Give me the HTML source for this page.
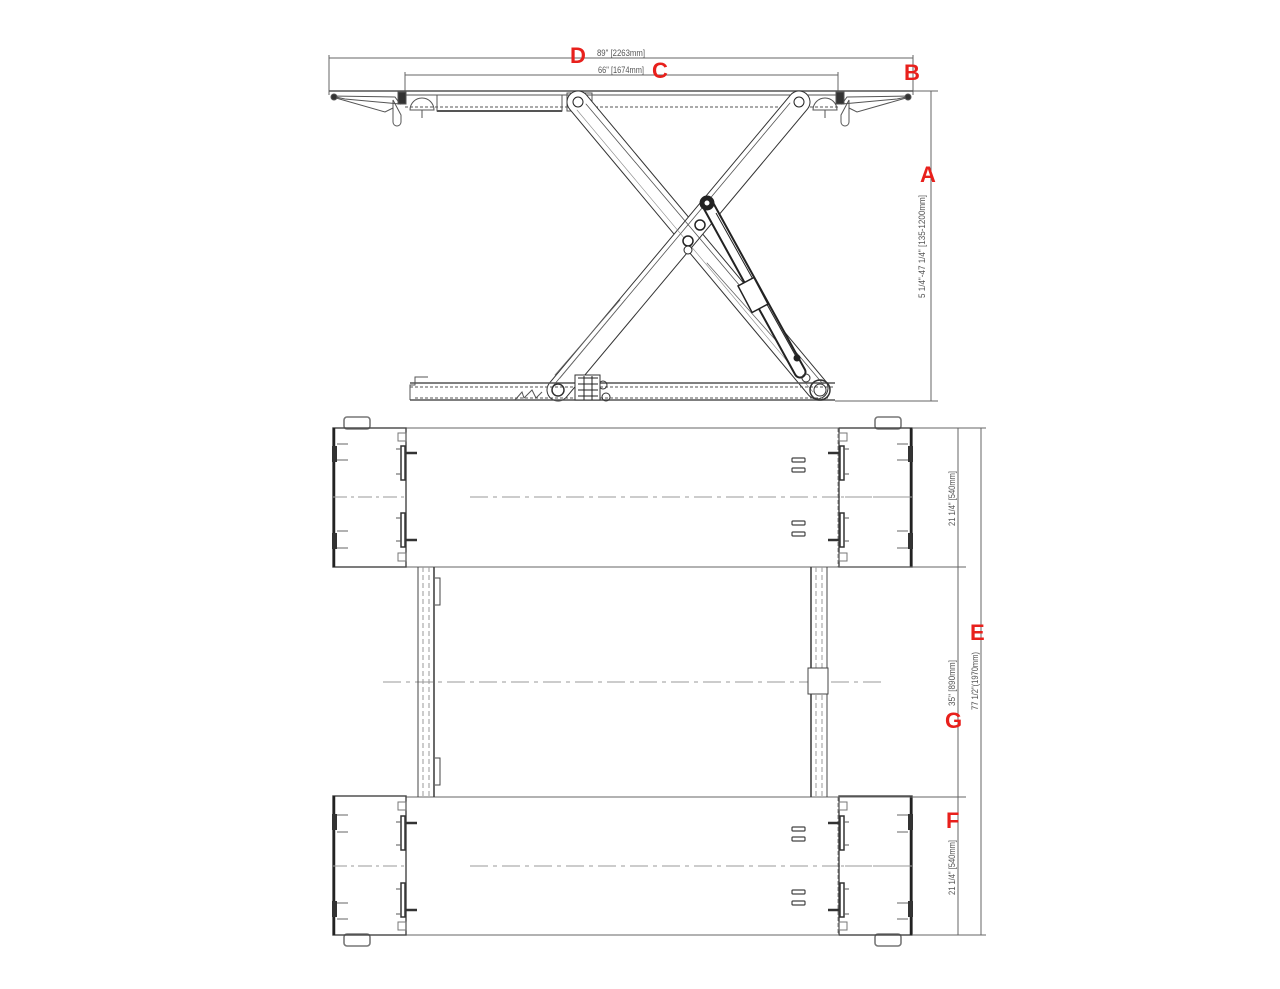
<!DOCTYPE html>
<html><head><meta charset="utf-8"><style>
html,body{margin:0;padding:0;background:#fff;}
svg{display:block;}
.t{font-family:"Liberation Sans",sans-serif;font-size:9px;fill:#555;}
.r{font-family:"Liberation Sans",sans-serif;font-size:22px;font-weight:bold;fill:#e8201c;}
</style></head><body>
<svg width="1280" height="989" viewBox="0 0 1280 989" xmlns="http://www.w3.org/2000/svg">
<defs>
<g id="flap">
  <rect x="344" y="417" width="26" height="12" rx="3" fill="none" stroke="#777" stroke-width="1.6"/>
  <rect x="333" y="428" width="73" height="139" fill="none" stroke="#444" stroke-width="1.4"/>
  <line x1="334" y1="428" x2="334" y2="567" stroke="#222" stroke-width="2.5"/>
  <line x1="333" y1="497" x2="406" y2="497" stroke="#999" stroke-width="1" stroke-dasharray="14,4,3,4"/>
  <rect x="332" y="446" width="5" height="16" fill="#333"/>
  <line x1="337" y1="444" x2="348" y2="444" stroke="#666"/><line x1="337" y1="460" x2="348" y2="460" stroke="#666"/>
  <rect x="332" y="533" width="5" height="16" fill="#333"/>
  <line x1="337" y1="531" x2="348" y2="531" stroke="#666"/><line x1="337" y1="548" x2="348" y2="548" stroke="#666"/>
  <rect x="398" y="433" width="8" height="8" fill="none" stroke="#777"/>
  <rect x="398" y="553" width="8" height="8" fill="none" stroke="#777"/>
  <rect x="401" y="446" width="4" height="34" fill="none" stroke="#333" stroke-width="1.5"/>
  <rect x="401" y="513" width="4" height="34" fill="none" stroke="#333" stroke-width="1.5"/>
  <line x1="396" y1="449" x2="401" y2="449" stroke="#555"/><line x1="396" y1="474" x2="401" y2="474" stroke="#555"/>
  <line x1="396" y1="518" x2="401" y2="518" stroke="#555"/><line x1="396" y1="541" x2="401" y2="541" stroke="#555"/>
  <line x1="406" y1="453" x2="417" y2="453" stroke="#333" stroke-width="2.5"/>
  <line x1="406" y1="540" x2="417" y2="540" stroke="#333" stroke-width="2.5"/>
</g>
</defs>

<!-- ===== SIDE VIEW ===== -->
<g fill="none" stroke="#666" stroke-width="1">
  <line x1="329" y1="58" x2="913" y2="58"/>
  <line x1="329" y1="55" x2="329" y2="95"/><line x1="913" y1="55" x2="913" y2="95"/>
  <line x1="405" y1="75" x2="838" y2="75"/>
  <line x1="405" y1="72" x2="405" y2="95"/><line x1="838" y1="72" x2="838" y2="95"/>
  <line x1="913" y1="91" x2="938" y2="91"/><line x1="835" y1="401" x2="938" y2="401"/>
  <line x1="931" y1="91" x2="931" y2="401"/>
</g>
<text class="t" x="597" y="56" textLength="48" lengthAdjust="spacingAndGlyphs">89" [2263mm]</text>
<text class="t" x="598" y="73" textLength="46" lengthAdjust="spacingAndGlyphs">66" [1674mm]</text>
<text class="t" transform="translate(925,298) rotate(-90)" textLength="103" lengthAdjust="spacingAndGlyphs">5 1/4"-47 1/4" [135-1200mm]</text>

<g fill="none" stroke="#555" stroke-width="1">
  <line x1="329" y1="91" x2="913" y2="91" stroke-width="1.6"/>
  <line x1="405" y1="95" x2="838" y2="95"/>
  <line x1="405" y1="107" x2="838" y2="107" stroke-dasharray="3,2"/>
  <rect x="437" y="95" width="125" height="16"/>
  <line x1="437" y1="111" x2="562" y2="111" stroke-width="2"/>
  <rect x="567" y="93" width="25" height="18"/>
  <path d="M410 110 a12 12 0 0 1 24 0 Z"/><line x1="422" y1="110" x2="422" y2="118"/>
  <path d="M813 110 a12 12 0 0 1 24 0 Z"/><line x1="825" y1="110" x2="825" y2="118"/>
  <path d="M331 96 L395 97 L400 104 L345 99 Z"/>
  <path d="M336 98 L385 112 L393 108"/>
  <path d="M393 100 L401 115 L401 122 a4 4 0 0 1 -8 0 Z"/>
  <rect x="398" y="92" width="8" height="12" fill="#333"/>
  <circle cx="334" cy="97" r="3" fill="#333"/>
  <path d="M911 96 L847 97 L842 104 L897 99 Z"/>
  <path d="M906 98 L857 112 L849 108"/>
  <path d="M849 100 L841 115 L841 122 a4 4 0 0 0 8 0 Z"/>
  <rect x="836" y="92" width="8" height="12" fill="#333"/>
  <circle cx="908" cy="97" r="3" fill="#333"/>
</g>

<g stroke-linecap="round" fill="none">
  <line x1="578" y1="102" x2="817" y2="388" stroke="#333" stroke-width="23"/>
  <line x1="578" y1="102" x2="817" y2="388" stroke="#fff" stroke-width="21"/>
  <line x1="799" y1="102" x2="558" y2="390" stroke="#333" stroke-width="23"/>
  <line x1="799" y1="102" x2="558" y2="390" stroke="#fff" stroke-width="21"/>
  <line x1="586" y1="104" x2="823" y2="384" stroke="#555" stroke-width="0.8"/>
  <line x1="790" y1="103" x2="553" y2="386" stroke="#555" stroke-width="0.8"/>
  <line x1="577" y1="110" x2="813" y2="392" stroke="#888" stroke-width="0.6"/>
  <path d="M620 300 L555 375" stroke="#666" stroke-width="0.8"/>
  <path d="M625 300 L560 378" stroke="#666" stroke-width="0.8"/>
  <path d="M707 263 L780 345" stroke="#666" stroke-width="0.8"/>
</g>
<g stroke="#222" fill="#fff">
  <line x1="707" y1="203" x2="800" y2="372" stroke-width="13" stroke-linecap="round" stroke="#222"/>
  <line x1="707" y1="203" x2="800" y2="372" stroke-width="9" stroke-linecap="round" stroke="#fff"/>
  <line x1="716" y1="213" x2="798" y2="360" stroke-width="1"/>
  <rect x="744" y="280" width="18" height="30" transform="rotate(-28 753 295)" stroke-width="1.5"/>
  <circle cx="707" cy="203" r="7" fill="#222"/>
  <circle cx="707" cy="203" r="3" fill="#fff"/>
  <circle cx="700" cy="225" r="5" stroke-width="1.5"/>
  <circle cx="688" cy="241" r="5" stroke-width="1.5"/>
  <circle cx="688" cy="250" r="4" stroke-width="1"/>
  <circle cx="578" cy="102" r="5" stroke-width="1"/>
  <circle cx="799" cy="102" r="5" stroke-width="1"/>
  <circle cx="797" cy="358" r="3" fill="#222"/>
</g>
<g fill="none" stroke="#555" stroke-width="1">
  <path d="M410 400 L410 385 L415 385 L415 377 L428 377"/>
  <line x1="410" y1="383" x2="835" y2="383" stroke-width="1.4"/>
  <line x1="410" y1="387" x2="835" y2="387" stroke-dasharray="3,2"/>
  <line x1="410" y1="400" x2="835" y2="400" stroke-width="1.4"/>
  <line x1="415" y1="398" x2="830" y2="398" stroke-dasharray="3,2"/>
  <path d="M515 400 L522 392 L524 398 L532 390 L536 398 L542 392"/>
  <circle cx="820" cy="390" r="10" stroke="#333" stroke-width="1.5"/>
  <circle cx="820" cy="390" r="6" stroke="#333"/>
  <circle cx="806" cy="378" r="4" stroke="#333"/>
  <circle cx="558" cy="390" r="6" stroke="#333" stroke-width="1.5"/>
  <circle cx="603" cy="385" r="4" stroke="#333"/>
  <circle cx="606" cy="397" r="4" stroke="#333"/>
  <rect x="575" y="375" width="25" height="25" fill="#fff" stroke="#333"/>
  <path d="M578 378 L598 378 M578 384 L598 384 M578 390 L598 390 M578 396 L598 396 M584 376 L584 400 M592 376 L592 400" stroke="#222"/>
</g>

<!-- ===== PLAN VIEW ===== -->
<g fill="none" stroke="#888" stroke-width="1">
  <rect x="406" y="428" width="432" height="139" stroke-dasharray="4,2"/>
  <line x1="406" y1="428" x2="838" y2="428" stroke="#666"/>
  <line x1="406" y1="567" x2="838" y2="567" stroke="#666"/>
  <rect x="406" y="797" width="432" height="138" stroke-dasharray="4,2"/>
  <line x1="406" y1="797" x2="838" y2="797" stroke="#666"/>
  <line x1="406" y1="935" x2="838" y2="935" stroke="#666"/>
</g>
<g stroke="#999" stroke-width="1" stroke-dasharray="18,5,4,5" fill="none">
  <line x1="470" y1="497" x2="912" y2="497"/>
  <line x1="470" y1="866" x2="912" y2="866"/>
  <line x1="383" y1="682" x2="885" y2="682"/>
</g>
<g fill="none" stroke="#444" stroke-width="1.2">
  <rect x="792" y="458" width="13" height="4" rx="1"/><rect x="792" y="468" width="13" height="4" rx="1"/>
  <rect x="792" y="521" width="13" height="4" rx="1"/><rect x="792" y="532" width="13" height="4" rx="1"/>
  <rect x="792" y="827" width="13" height="4" rx="1"/><rect x="792" y="837" width="13" height="4" rx="1"/>
  <rect x="792" y="890" width="13" height="4" rx="1"/><rect x="792" y="901" width="13" height="4" rx="1"/>
</g>
<g fill="none" stroke="#444" stroke-width="1">
  <line x1="418" y1="567" x2="418" y2="797"/>
  <line x1="434" y1="567" x2="434" y2="797" stroke-width="1.6"/>
  <line x1="423" y1="567" x2="423" y2="797" stroke="#999" stroke-dasharray="5,3"/>
  <line x1="429" y1="567" x2="429" y2="797" stroke="#999" stroke-dasharray="5,3"/>
  <path d="M435 578 L440 578 L440 605 L435 605"/>
  <path d="M435 758 L440 758 L440 785 L435 785"/>
  <line x1="811" y1="567" x2="811" y2="797" stroke-width="1.6"/>
  <line x1="827" y1="567" x2="827" y2="797"/>
  <line x1="816" y1="567" x2="816" y2="797" stroke="#999" stroke-dasharray="5,3"/>
  <line x1="822" y1="567" x2="822" y2="797" stroke="#999" stroke-dasharray="5,3"/>
  <rect x="808" y="668" width="20" height="26" fill="#fff"/>
</g>
<use href="#flap"/>
<use href="#flap" transform="translate(1245,0) scale(-1,1)"/>
<use href="#flap" transform="translate(0,1363) scale(1,-1)"/>
<use href="#flap" transform="translate(1245,1363) scale(-1,-1)"/>

<g fill="none" stroke="#666" stroke-width="1">
  <line x1="912" y1="428" x2="986" y2="428"/>
  <line x1="912" y1="935" x2="986" y2="935"/>
  <line x1="838" y1="567" x2="966" y2="567"/>
  <line x1="838" y1="797" x2="966" y2="797"/>
  <line x1="958" y1="428" x2="958" y2="935"/>
  <line x1="981" y1="428" x2="981" y2="935"/>
</g>
<text class="t" transform="translate(955,526) rotate(-90)" textLength="55" lengthAdjust="spacingAndGlyphs">21 1/4" [540mm]</text>
<text class="t" transform="translate(955,895) rotate(-90)" textLength="55" lengthAdjust="spacingAndGlyphs">21 1/4" [540mm]</text>
<text class="t" transform="translate(955,706) rotate(-90)" textLength="46" lengthAdjust="spacingAndGlyphs">35" [890mm]</text>
<text class="t" transform="translate(978,710) rotate(-90)" textLength="58" lengthAdjust="spacingAndGlyphs">77 1/2"(1970mm)</text>

<text class="r" x="570" y="63">D</text>
<text class="r" x="652" y="78">C</text>
<text class="r" x="904" y="80">B</text>
<text class="r" x="920" y="182">A</text>
<text class="r" x="970" y="640">E</text>
<text class="r" x="945" y="728">G</text>
<text class="r" x="946" y="828">F</text>
</svg>
</body></html>
